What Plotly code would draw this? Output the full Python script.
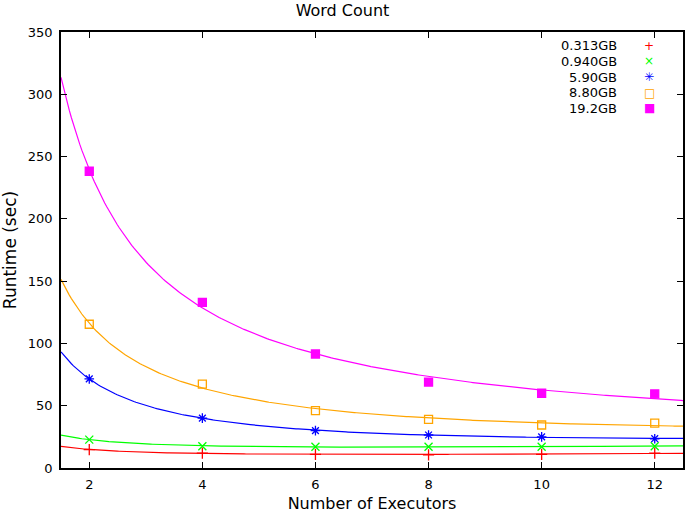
import numpy as np
import plotly.graph_objects as go

executors = [2, 4, 6, 8, 10, 12]
series_names = ["0.313GB", "0.940GB", "5.90GB", "8.80GB", "19.2GB"]
runtime_0313 = [14.8, 12.0, 11.0, 10.6, 11.0, 12.0]
runtime_0940 = [22.8, 17.5, 17.0, 17.0, 17.0, 17.5]
runtime_590 = [71.5, 40.0, 30.0, 26.5, 25.0, 23.5]
runtime_880 = [115.4, 67.4, 46.0, 39.0, 34.5, 36.0]
runtime_192 = [238.2, 133.0, 91.5, 69.0, 60.0, 59.5]

colors = ["#ff0000", "#00ff00", "#0000ff", "#ffa500", "#ff00ff"]
symbols = ["cross-thin", "x-thin", "asterisk", "square-open", "square"]
legend_glyphs = ["+", "×", "✳", "□", "■"]
all_series = [runtime_0313, runtime_0940, runtime_590, runtime_880, runtime_192]

fig = go.Figure()
xs = np.array(executors, dtype=float)
grid = np.linspace(1.5, 12.5, 300)
for name, vals, col, sym in zip(series_names, all_series, colors, symbols):
    ys = np.array(vals, dtype=float)
    A = np.vstack([np.ones_like(xs), 1.0 / xs, xs]).T
    coef, *_ = np.linalg.lstsq(A, ys, rcond=None)
    fit = coef[0] + coef[1] / grid + coef[2] * grid
    fig.add_trace(go.Scatter(x=grid, y=fit, mode="lines",
                             line=dict(color=col, width=1.2),
                             showlegend=False, hoverinfo="skip"))
    fig.add_trace(go.Scatter(x=executors, y=vals, mode="markers", name=name,
                             marker=dict(symbol=sym, size=8,
                                         color=col,
                                         line=dict(color=col, width=1.3)),
                             showlegend=False))

font = "DejaVu Sans"
annotations = []
for i, (name, col, g) in enumerate(zip(series_names, colors, legend_glyphs)):
    yy = 1 - (13.7 + i * 15.65) / 436
    annotations.append(dict(x=619, xref="x", y=yy, yref="paper", text=name,
                            showarrow=False, xanchor="right", yanchor="middle",
                            font=dict(family=font, size=13, color="black")))
    annotations.append(dict(x=649, xref="x", y=yy, yref="paper", text=g,
                            showarrow=False, xanchor="center", yanchor="middle",
                            font=dict(family=font, size=12, color=col)))
# convert legend x pixel positions to data coordinates
for a in annotations:
    px = a["x"]
    a["x"] = 1.5 + (px - 61) / 56.5

fig.update_layout(
    width=685, height=513,
    margin=dict(l=61, r=2, t=32, b=45),
    paper_bgcolor="white", plot_bgcolor="white",
    title=dict(text="Word Count", x=0.5, xanchor="center", y=0.99, yanchor="top",
               font=dict(family=font, size=16, color="black")),
    font=dict(family=font, size=13, color="black"),
    annotations=annotations,
    showlegend=False,
)
fig.update_xaxes(range=[1.5, 12.5], tickvals=[2, 4, 6, 8, 10, 12],
                 ticks="inside", ticklen=6, tickwidth=1, tickcolor="black",
                 showline=True, linecolor="black", linewidth=1.5, mirror="ticks",
                 showgrid=False, zeroline=False, automargin=False, ticklabelstandoff=4,
                 title=dict(text="Number of Executors", font=dict(size=16), standoff=14))
fig.update_yaxes(range=[0, 350], tickvals=list(range(0, 351, 50)),
                 ticks="inside", ticklen=6, tickwidth=1, tickcolor="black",
                 showline=True, linecolor="black", linewidth=1.5, mirror="ticks",
                 showgrid=False, zeroline=False, automargin=False, ticklabelstandoff=4,
                 title=dict(text="Runtime (sec)", font=dict(size=17), standoff=8))
fig.write_html("out.html", config={"displayModeBar": False},
               post_script="document.body.style.margin='0px';")
